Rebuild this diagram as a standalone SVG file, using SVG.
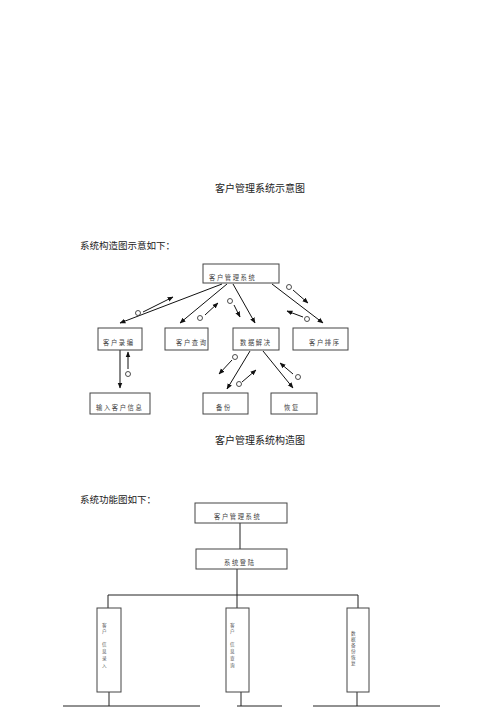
<svg xmlns="http://www.w3.org/2000/svg" width="500" height="707" viewBox="0 0 500 707">
<style>
.t{font-family:"Noto Sans CJK SC","Liberation Serif",serif;fill:#222}
.h{font-size:10px}
.s{font-size:6.3px;fill:#444;letter-spacing:1.6px}
.v{font-size:4.6px;fill:#555}
.box{fill:#fff;stroke:#444;stroke-width:1}
.ln{stroke:#222;stroke-width:1;fill:none}
.ar{stroke:#111;stroke-width:1;fill:none;marker-end:url(#ah)}
.c{fill:#fff;stroke:#222;stroke-width:0.8}
</style>
<defs>
<marker id="ah" viewBox="0 0 10 10" refX="9" refY="5" markerWidth="6" markerHeight="6" orient="auto" markerUnits="userSpaceOnUse">
<path d="M0,1 L10,5 L0,9 z" fill="#111"/>
</marker>
</defs>
<rect width="500" height="707" fill="#fff"/>

<text class="t h" x="215" y="192">客户管理系统示意图</text>
<text class="t h" x="80" y="249" style="font-size:9.5px">系统构造图示意如下：</text>

<g id="connectors1">
<line class="ar" x1="222" y1="284" x2="120" y2="323"/>
<line class="ar" x1="143" y1="312" x2="173" y2="297"/>
<circle class="c" cx="138" cy="313" r="2.5"/>
<line class="ar" x1="227" y1="284" x2="180" y2="323"/>
<line class="ar" x1="205" y1="315" x2="218" y2="303"/>
<circle class="c" cx="200" cy="318" r="2.5"/>
<line class="ar" x1="233" y1="284" x2="255" y2="323"/>
<line class="ar" x1="234" y1="305" x2="240" y2="317"/>
<circle class="c" cx="230" cy="301" r="2.5"/>
<line class="ar" x1="272" y1="284" x2="323" y2="323"/>
<line class="ar" x1="293" y1="290" x2="308" y2="303"/>
<circle class="c" cx="289" cy="287" r="2.5"/>
<line class="ar" x1="303" y1="317" x2="287" y2="311"/>
<circle class="c" cx="307" cy="319" r="2.5"/>
<line class="ar" x1="120" y1="350" x2="120" y2="388"/>
<line class="ar" x1="128" y1="369" x2="128" y2="352"/>
<circle class="c" cx="128" cy="374" r="2.5"/>
<line class="ar" x1="250" y1="351" x2="227" y2="389"/>
<line class="ar" x1="232" y1="360" x2="219" y2="374"/>
<circle class="c" cx="235" cy="357" r="2.5"/>
<line class="ar" x1="242" y1="382" x2="256" y2="370"/>
<circle class="c" cx="239" cy="384" r="2.5"/>
<line class="ar" x1="263" y1="351" x2="293" y2="388"/>
<line class="ar" x1="293" y1="374" x2="280" y2="363"/>
<circle class="c" cx="298" cy="377" r="2.5"/>
</g>

<g id="n-root"><rect class="box" x="203" y="264" width="76" height="19"/><text class="t s" x="209" y="280">客户管理系统</text></g>
<g id="n-luru"><rect class="box" x="98" y="328" width="44" height="22"/><text class="t s" x="103" y="345">客户录编</text></g>
<g id="n-chaxun"><rect class="box" x="165" y="328" width="43" height="22"/><text class="t s" x="176" y="345">客户查询</text></g>
<g id="n-shuju"><rect class="box" x="233" y="328" width="46" height="22"/><text class="t s" x="240" y="345">数据解决</text></g>
<g id="n-paixu"><rect class="box" x="293" y="328" width="55" height="22"/><text class="t s" x="309" y="345">客户排序</text></g>
<g id="n-shuru"><rect class="box" x="90" y="393" width="60" height="21"/><text class="t s" x="96" y="410">输入客户信息</text></g>
<g id="n-beifen"><rect class="box" x="203" y="393" width="45" height="21"/><text class="t s" x="216" y="410">备份</text></g>
<g id="n-huifu"><rect class="box" x="271" y="393" width="46" height="21"/><text class="t s" x="284" y="410">恢复</text></g>

<text class="t h" x="215" y="444">客户管理系统构造图</text>

<text class="t h" x="80" y="503" style="font-size:9.5px">系统功能图如下：</text>

<g id="connectors2">
<line class="ln" x1="240" y1="523" x2="240" y2="549"/>
<line class="ln" x1="237" y1="569" x2="237" y2="595"/>
<line class="ln" x1="108" y1="595" x2="358" y2="595"/>
<line class="ln" x1="108" y1="595" x2="108" y2="608"/>
<line class="ln" x1="237" y1="595" x2="237" y2="608"/>
<line class="ln" x1="358" y1="595" x2="358" y2="608"/>
<line class="ln" x1="109" y1="692" x2="109" y2="706"/>
<line class="ln" x1="241" y1="692" x2="241" y2="706"/>
<line class="ln" x1="357" y1="692" x2="357" y2="706"/>
<line class="ln" x1="63" y1="706" x2="200" y2="706"/>
<line class="ln" x1="237" y1="706" x2="282" y2="706"/>
<line class="ln" x1="313" y1="706" x2="440" y2="706"/>
</g>

<g id="f-root"><rect class="box" x="195" y="503" width="92" height="20"/><text class="t s" x="214" y="519">客户管理系统</text></g>
<g id="f-login"><rect class="box" x="196" y="549" width="91" height="20"/><text class="t s" x="224" y="565">系统登陆</text></g>
<g id="f-a"><rect class="box" x="97" y="608" width="24" height="84"/>
<text class="t v"><tspan x="102" y="627">客</tspan><tspan x="102" y="633">户</tspan><tspan x="102" y="646">信</tspan><tspan x="102" y="653">息</tspan><tspan x="102" y="660">录</tspan><tspan x="102" y="667">入</tspan></text></g>
<g id="f-b"><rect class="box" x="226" y="608" width="23" height="84"/>
<text class="t v"><tspan x="230" y="627">客</tspan><tspan x="230" y="633">户</tspan><tspan x="230" y="646">信</tspan><tspan x="230" y="653">息</tspan><tspan x="230" y="660">查</tspan><tspan x="230" y="667">询</tspan></text></g>
<g id="f-c"><rect class="box" x="347" y="608" width="22" height="84"/>
<text class="t v"><tspan x="351" y="635">数</tspan><tspan x="351" y="641">据</tspan><tspan x="351" y="647">备</tspan><tspan x="351" y="653">份</tspan><tspan x="351" y="659">恢</tspan><tspan x="351" y="665">复</tspan></text></g>
</svg>
